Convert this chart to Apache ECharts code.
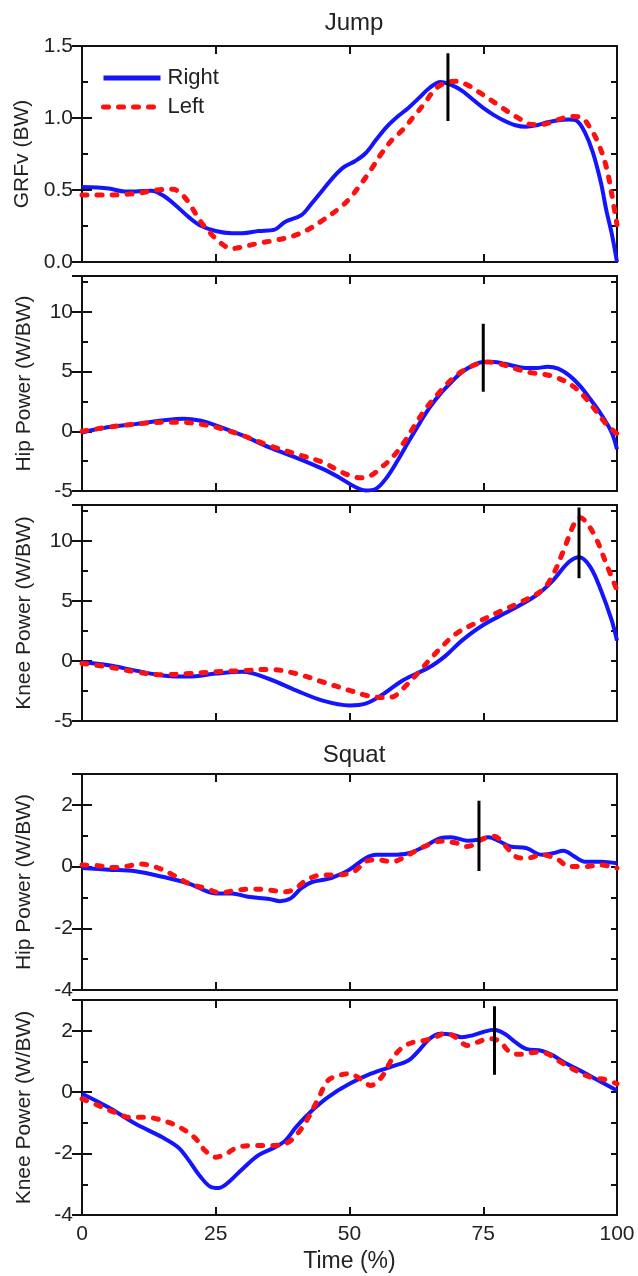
<!DOCTYPE html>
<html>
<head>
<meta charset="utf-8">
<script src="https://cdn.jsdelivr.net/npm/echarts@6/dist/echarts.min.js"></script>
<style>html,body{margin:0;padding:0;background:#fff;}#c{width:638px;height:1276px;}</style>
</head>
<body>
<div id="c"></div>
<script>
// ---------- data (x = Time %, y = value) ----------
const xTicks = [0, 25, 50, 75, 100];

const grfRight = [[0,0.52],[5,0.51],[8,0.49],[10,0.49],[13,0.495],[15,0.465],[17,0.41],[20,0.31],[22,0.255],[25,0.215],[28,0.2],[30,0.2],[33,0.215],[36,0.225],[38,0.28],[41,0.325],[43,0.41],[45,0.5],[47,0.59],[49,0.66],[51,0.70],[53,0.755],[55,0.85],[57,0.94],[59,1.01],[61,1.07],[63,1.14],[65,1.21],[67,1.25],[69,1.23],[71,1.19],[73,1.13],[75,1.07],[77,1.02],[79,0.98],[81,0.95],[83,0.94],[85,0.95],[87,0.97],[89,0.985],[91,0.99],[92.5,0.98],[94,0.9],[95.5,0.76],[97,0.55],[98,0.36],[99,0.2],[100,0.0]];
const grfLeft = [[0,0.465],[5,0.465],[8,0.47],[11,0.48],[14,0.5],[17,0.505],[18.5,0.475],[20,0.41],[22,0.29],[24,0.2],[26,0.13],[28,0.093],[30,0.105],[33,0.13],[36,0.15],[39,0.175],[42,0.22],[45,0.29],[48,0.37],[50,0.44],[52,0.535],[54,0.64],[56,0.755],[58,0.85],[60,0.92],[62,1.01],[64,1.1],[66,1.2],[68,1.245],[70,1.255],[72,1.23],[74,1.185],[76,1.135],[78,1.085],[80,1.035],[82,0.99],[84,0.955],[86,0.955],[88,0.975],[90,1.0],[92,1.01],[93.5,1.0],[95,0.93],[96.5,0.825],[98,0.66],[99,0.475],[100,0.26]];

const jumpHipRight = [[0,-0.1],[5,0.35],[10,0.6],[15,0.9],[19,1.05],[22,0.9],[25,0.5],[30,-0.35],[35,-1.35],[40,-2.2],[45,-3.15],[48,-3.85],[51,-4.65],[53,-4.95],[55,-4.8],[57,-3.85],[59,-2.45],[61,-0.9],[63,0.6],[65,2.0],[67,3.15],[69,4.1],[71,4.95],[73,5.5],[75,5.8],[77,5.8],[79,5.65],[81,5.45],[83,5.3],[85,5.3],[87,5.4],[89,5.25],[91,4.7],[93,3.85],[95,2.7],[97,1.45],[99,-0.1],[100,-1.5]];
const jumpHipLeft = [[0,0],[5,0.35],[10,0.6],[15,0.75],[19,0.75],[22,0.6],[25,0.35],[30,-0.35],[35,-1.2],[40,-1.9],[45,-2.6],[48,-3.3],[50,-3.7],[52,-3.9],[54,-3.7],[56,-3.0],[58,-2.2],[60,-1.05],[62,0.35],[64,1.75],[66,2.85],[68,3.85],[70,4.7],[72,5.25],[74,5.65],[76,5.8],[78,5.65],[80,5.4],[82,5.1],[84,4.9],[86,4.8],[88,4.6],[90,4.25],[92,3.7],[94,2.85],[96,1.75],[98,0.6],[100,-0.2]];

const jumpKneeRight = [[0,-0.1],[5,-0.35],[10,-0.8],[15,-1.2],[20,-1.3],[25,-1.05],[30,-0.9],[35,-1.5],[40,-2.45],[45,-3.3],[50,-3.7],[53,-3.55],[56,-2.85],[60,-1.6],[65,-0.5],[68,0.45],[71,1.7],[75,3.0],[80,4.2],[85,5.5],[88,6.7],[91,8.25],[93,8.65],[95,7.85],[97,5.9],[99,3.4],[100,1.7]];
const jumpKneeLeft = [[0,-0.2],[5,-0.5],[10,-0.9],[15,-1.15],[20,-1.05],[25,-0.9],[30,-0.8],[35,-0.7],[40,-1.05],[45,-1.75],[50,-2.45],[53,-2.85],[56,-3.05],[58,-3.0],[60,-2.3],[63,-0.9],[66,0.6],[70,2.3],[74,3.25],[78,4.1],[82,4.9],[86,5.9],[88,7.15],[90,9.2],[92,11.45],[93,11.95],[94,11.7],[96,10.3],[98,8.1],[100,5.9]];

const squatHipRight = [[0,-0.05],[5,-0.1],[10,-0.15],[15,-0.33],[20,-0.55],[25,-0.87],[28,-0.87],[31,-0.98],[35,-1.05],[37,-1.12],[39,-1.03],[41,-0.7],[43,-0.5],[46,-0.4],[48,-0.27],[50,-0.1],[53,0.27],[55,0.38],[58,0.38],[61,0.43],[64,0.65],[67,0.92],[69,0.95],[72,0.84],[74,0.87],[76,0.95],[78,0.82],[80,0.65],[83,0.6],[86,0.38],[88,0.43],[90,0.51],[92,0.33],[94,0.16],[97,0.16],[100,0.11]];
const squatHipLeft = [[0,0.05],[3,0.03],[6,-0.03],[8,0.0],[11,0.08],[14,-0.03],[17,-0.27],[20,-0.55],[23,-0.7],[26,-0.85],[29,-0.76],[32,-0.73],[35,-0.76],[38,-0.82],[40,-0.7],[42,-0.43],[45,-0.27],[48,-0.27],[51,-0.14],[53,0.16],[55,0.22],[58,0.16],[61,0.38],[64,0.65],[67,0.82],[70,0.76],[72,0.65],[75,0.9],[77,0.98],[79,0.7],[81,0.33],[83,0.27],[86,0.38],[89,0.22],[91,0.0],[94,0.0],[97,0.05],[100,-0.05]];

const squatKneeRight = [[0,-0.05],[5,-0.5],[10,-1.03],[15,-1.47],[18,-1.8],[20,-2.23],[22,-2.72],[24,-3.08],[25.5,-3.12],[27,-2.99],[30,-2.5],[33,-2.05],[36,-1.8],[38,-1.58],[40,-1.14],[43,-0.6],[46,-0.16],[50,0.27],[54,0.6],[58,0.84],[61,1.03],[63,1.36],[65,1.74],[67,1.9],[69,1.88],[71,1.79],[73,1.85],[75,1.96],[77,2.03],[79,1.9],[81,1.63],[83,1.41],[86,1.34],[88,1.2],[90,0.98],[93,0.71],[96,0.43],[100,0.05]];
const squatKneeLeft = [[0,-0.22],[3,-0.43],[6,-0.65],[9,-0.82],[12,-0.82],[15,-0.92],[18,-1.12],[21,-1.47],[23,-1.9],[25,-2.12],[27,-2.0],[29,-1.8],[32,-1.74],[35,-1.74],[38,-1.68],[40,-1.41],[42,-0.92],[44,-0.27],[46,0.38],[48,0.54],[50,0.6],[52,0.43],[54,0.22],[56,0.49],[58,1.09],[60,1.47],[62,1.63],[64,1.68],[66,1.79],[68,1.92],[70,1.77],[72,1.52],[74,1.63],[76,1.74],[78,1.66],[80,1.3],[82,1.23],[85,1.3],[87,1.25],[89,1.03],[92,0.73],[95,0.49],[98,0.4],[100,0.27]];

// vertical event markers [x, y1, y2]
const markers = [[68.4, 0.98, 1.45], [75, 3.3, 9.0], [92.9, 6.9, 12.8], [74.2, -0.14, 2.13], [77.1, 0.57, 2.8]];

const panelNames = ['GRFv (BW)', 'Hip Power (W/BW)', 'Knee Power (W/BW)', 'Hip Power (W/BW)', 'Knee Power (W/BW)'];
const yMins = [0, -5, -5, -4, -4];
const yMaxs = [1.5, 13, 13, 3, 3];
const yMajor = [0.5, 5, 5, 2, 2];
const yMinor = [0.25, 2.5, 2.5, 1, 1];
const yDecimals = [1, 0, 0, 0, 0];
const rightSeries = [grfRight, jumpHipRight, jumpKneeRight, squatHipRight, squatKneeRight];
const leftSeries = [grfLeft, jumpHipLeft, jumpKneeLeft, squatHipLeft, squatKneeLeft];

// ---------- layout ----------
const tops = [46, 276, 505, 774, 1000];
const heights = [216, 215, 216, 216, 215];
const FONT = 'Liberation Sans, Arial, sans-serif';
const BLUE = '#1414ff';
const RED = '#ff1010';

const grids = [], xAxes = [], yAxes = [], series = [];
for (let i = 0; i < 5; i++) {
  grids.push({ left: 82, width: 535, top: tops[i], height: heights[i] });
  const last = i === 4;
  const xBase = {
    gridIndex: i, type: 'value', min: 0, max: 100, interval: 25,
    axisLine: { show: true, onZero: false, lineStyle: { color: '#111', width: 2 } },
    axisTick: { show: true, inside: true, length: 8, lineStyle: { color: '#111', width: 2 } },
    splitLine: { show: false }
  };
  xAxes.push(Object.assign({}, xBase, {
    position: 'bottom',
    axisLabel: { show: last, fontSize: 21, color: '#222', fontFamily: FONT, margin: 9 },
    name: last ? 'Time (%)' : '', nameLocation: 'middle', nameGap: 35,
    nameTextStyle: { fontSize: 23, color: '#222', fontFamily: FONT }
  }));
  xAxes.push(Object.assign({}, xBase, { position: 'top', axisLabel: { show: false } }));

  const maj = yMajor[i], dec = yDecimals[i];
  const yBase = {
    gridIndex: i, type: 'value', min: yMins[i], max: yMaxs[i], offset: 0,
    splitLine: { show: false }
  };
  const fmt = function (v) {
    const r = v / maj;
    if (Math.abs(r - Math.round(r)) > 1e-6) return '';
    return v.toFixed(dec);
  };
  yAxes.push(Object.assign({}, yBase, {
    position: 'left', interval: yMinor[i],
    axisLine: { show: true, onZero: false, lineStyle: { color: '#111', width: 2 } },
    axisTick: { show: true, inside: true, length: 6, lineStyle: { color: '#111', width: 2 } },
    axisLabel: { show: true, formatter: fmt, fontSize: 21, color: '#222', fontFamily: FONT, margin: 9 },
    name: panelNames[i], nameLocation: 'middle', nameGap: 47,
    nameTextStyle: { fontSize: 21, color: '#222', fontFamily: FONT }
  }));
  yAxes.push(Object.assign({}, yBase, {
    position: 'left', interval: maj,
    axisLine: { show: false },
    axisTick: { show: true, inside: true, length: 10, lineStyle: { color: '#111', width: 2 } },
    axisLabel: { show: false }
  }));
  yAxes.push(Object.assign({}, yBase, {
    position: 'right', interval: yMinor[i],
    axisLine: { show: true, onZero: false, lineStyle: { color: '#111', width: 2 } },
    axisTick: { show: true, inside: true, length: 6, lineStyle: { color: '#111', width: 2 } },
    axisLabel: { show: false }
  }));
  yAxes.push(Object.assign({}, yBase, {
    position: 'right', interval: maj,
    axisLine: { show: false },
    axisTick: { show: true, inside: true, length: 10, lineStyle: { color: '#111', width: 2 } },
    axisLabel: { show: false }
  }));

  series.push({
    name: 'Right', type: 'line', xAxisIndex: 2 * i, yAxisIndex: 4 * i,
    data: rightSeries[i], smooth: 0.35, symbol: 'none', z: 2,
    lineStyle: { color: BLUE, width: 4 }, itemStyle: { color: BLUE }
  });
  series.push({
    name: 'Left', type: 'line', xAxisIndex: 2 * i, yAxisIndex: 4 * i,
    data: leftSeries[i], smooth: 0.35, symbol: 'none', z: 3,
    lineStyle: { color: RED, width: 5, type: [5, 10], cap: 'round' }, itemStyle: { color: RED }
  });
  const m = markers[i];
  series.push({
    name: 'marker' + i, type: 'line', xAxisIndex: 2 * i, yAxisIndex: 4 * i,
    data: [[m[0], m[1]], [m[0], m[2]]], symbol: 'none', z: 4, silent: true,
    lineStyle: { color: '#000', width: 3 }
  });
}

const chart = echarts.init(document.getElementById('c'), null, { renderer: 'canvas' });
chart.setOption({
  backgroundColor: '#ffffff',
  animation: false,
  title: [
    { text: 'Jump', left: 349, top: 6, textAlign: 'center', textStyle: { fontSize: 24, fontWeight: 'normal', color: '#222', fontFamily: FONT } },
    { text: 'Squat', left: 349, top: 738, textAlign: 'center', textStyle: { fontSize: 24, fontWeight: 'normal', color: '#222', fontFamily: FONT } }
  ],
  legend: {
    data: ['Right', 'Left'], orient: 'vertical', left: 96, top: 62,
    itemWidth: 57, itemHeight: 20, itemGap: 7,
    itemStyle: { opacity: 0 },
    lineStyle: { width: 5 },
    textStyle: { fontSize: 22, color: '#222', fontFamily: FONT, padding: [0, 0, 0, 2] }
  },
  grid: grids, xAxis: xAxes, yAxis: yAxes, series: series
});
</script>
</body>
</html>
